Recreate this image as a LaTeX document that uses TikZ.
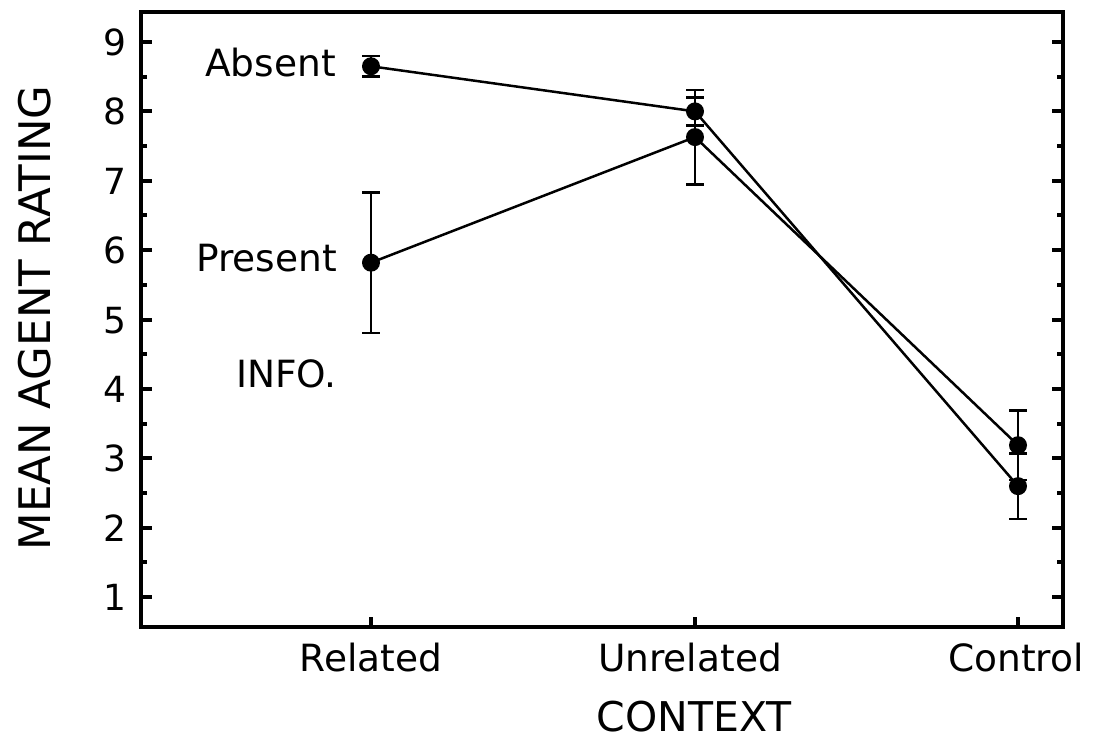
\documentclass[tikz,border=0pt]{standalone}
\usepackage{fontspec}
\setmainfont{DejaVu Sans}
\begin{document}
\begin{tikzpicture}[x=1pt,y=1pt,
  framestyle/.style={line width=4pt},
  tickstyle/.style={line width=4pt},
  dataline/.style={line width=2.5pt},
  errbar/.style={line width=2.5pt},
  dot/.style={circle,fill=black,inner sep=0pt,minimum size=18pt},
  lbl/.style={font=\fontsize{37.5}{40}\selectfont,inner sep=0pt},
  axlbl/.style={font=\fontsize{41}{44}\selectfont,inner sep=0pt},
  ylbl/.style={font=\fontsize{43.5}{46}\selectfont,inner sep=0pt},
  numlbl/.style={font=\fontsize{36}{38}\selectfont,inner sep=0pt,anchor=base east}]
\useasboundingbox (0,0) rectangle (1096,744);
\begin{scope}[y=69.4pt,shift={(0,77.4pt)}]
  % frame
  \draw[framestyle] (141,0.57) rectangle (1063,9.43);
  % y ticks
  \foreach \v in {1,...,9}{
    \draw[tickstyle] (141,\v) -- (152,\v);
    \draw[tickstyle] (1063,\v) -- (1052,\v);
    \node[numlbl] (n\v) at (127,\v) [yshift=-13.5pt] {\v};
  }
  \foreach \v in {1.5,2.5,...,8.5}{
    \draw[tickstyle] (141,\v) -- (147,\v);
    \draw[tickstyle] (1063,\v) -- (1057,\v);
  }
  % x ticks
  \foreach \x in {371,695,1018}{
    \draw[tickstyle] (\x,0.57) -- ++(0,10pt);
  }
  % error bars
  \foreach \x/\lo/\hi in {371/8.5/8.8, 695/7.8/8.2, 1018/2.13/3.07,
                          371/4.81/6.83, 695/6.95/8.31, 1018/2.69/3.69}{
    \draw[errbar] (\x,\lo) -- (\x,\hi);
    \draw[errbar] (\x-9,\lo) -- (\x+9,\lo);
    \draw[errbar] (\x-9,\hi) -- (\x+9,\hi);
  }
  % data points
  \node[dot] (a1) at (371,8.65) {};
  \node[dot] (a2) at (695,8.0) {};
  \node[dot] (a3) at (1018,2.6) {};
  \node[dot] (p1) at (371,5.82) {};
  \node[dot] (p2) at (695,7.63) {};
  \node[dot] (p3) at (1018,3.19) {};
  \draw[dataline] (a1.center) -- (a2.center) -- (a3.center);
  \draw[dataline] (p1.center) -- (p2.center) -- (p3.center);
\end{scope}
% labels
\node[lbl,anchor=base east] (absent) at (336,667) {Absent};
\node[lbl,anchor=base east] (present) at (337,472) {Present};
\node[lbl,anchor=base east] (info) at (337,356) {INFO.};
\node[lbl,anchor=base] (rel) at (371,72) {Related};
\node[lbl,anchor=base] (unrel) at (690,72) {Unrelated};
\node[lbl,anchor=base] (ctrl) at (1016,72) {Control};
\node[axlbl,anchor=base] (ctx) at (694,12) {CONTEXT};
\node[ylbl,rotate=90] (ylab) at (35,426) {MEAN AGENT RATING};
\end{tikzpicture}
\end{document}
